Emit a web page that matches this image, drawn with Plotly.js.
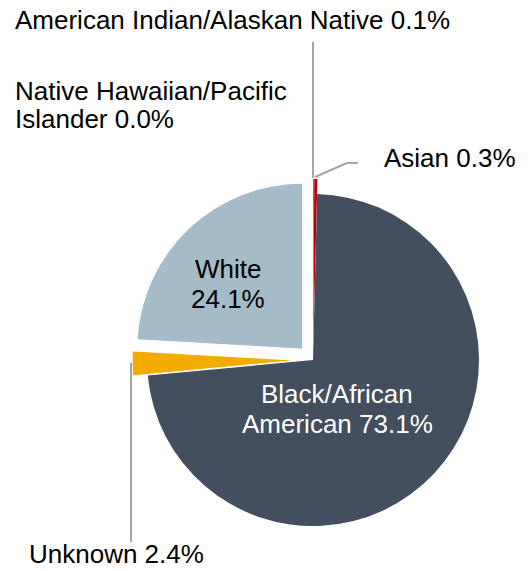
<!DOCTYPE html>
<html>
<head>
<meta charset="utf-8">
<script src="https://cdn.plot.ly/plotly-3.0.1.min.js"></script>
<style>html,body{margin:0;padding:0;background:#fff;}#chart{width:532px;height:571px;}</style>
</head>
<body>
<div id="chart"></div>
<script>
// Data (clockwise from 12 o'clock)
var labels = ["Native Hawaiian/Pacific Islander", "American Indian/Alaskan Native", "Asian", "Black/African American", "Unknown", "White"];
var values = [0.0, 0.1, 0.3, 73.1, 2.4, 24.1];
var colors = ["#7F7F7F", "#00A651", "#C00000", "#434F5E", "#F2AC00", "#A6BBC8"];
var pulls = [0.09, 0.09, 0.09, 0, 0.09, 0.09];
var borderWidths = [0, 0, 0, 0, 1, 1];

var W = 532, H = 571;
function px(x) { return x / W; }
function py(y) { return 1 - y / H; }
function pct(i) { return values[i].toFixed(1) + "%"; }

var FONT = "Liberation Sans, Arial, sans-serif";
var GRAY = "#A6A6A6";

// pie geometry
var cx = 313, cy = 360, r = 166, maxPull = 0.09;
var half = r * (1 + maxPull);

var trace = {
  type: "pie",
  labels: labels,
  values: values,
  sort: false,
  direction: "clockwise",
  rotation: 0,
  pull: pulls,
  marker: { colors: colors, line: { color: "#FFFFFF", width: borderWidths } },
  textinfo: "none",
  hoverinfo: "label+percent",
  domain: { x: [px(cx - half), px(cx + half)], y: [py(cy + half), py(cy - half)] }
};

function ann(text, x, y, xanchor, color) {
  return {
    text: text, xref: "paper", yref: "paper", x: px(x), y: py(y),
    xanchor: xanchor, yanchor: "middle", showarrow: false,
    borderpad: 0, borderwidth: 0,
    font: { family: FONT, size: 26, color: color || "#000000" }
  };
}

var annotations = [
  ann(labels[1] + " " + pct(1), 15, 20, "left"),
  ann("Native Hawaiian/Pacific", 15, 91, "left"),
  ann("Islander " + pct(0), 15, 118.5, "left"),
  ann(labels[2] + " " + pct(2), 384, 158, "left"),
  ann(labels[4] + " " + pct(4), 29, 554, "left"),
  ann(labels[5], 228, 269, "center"),
  ann(pct(5), 228, 299, "center"),
  ann("Black/African", 337, 394, "center", "#FFFFFF"),
  ann("American " + pct(3), 337, 424, "center", "#FFFFFF")
];

function line(x0, y0, x1, y1) {
  return { type: "line", xref: "paper", yref: "paper", x0: px(x0), y0: py(y0), x1: px(x1), y1: py(y1),
           line: { color: GRAY, width: 2 } };
}

var shapes = [
  line(313, 42, 313, 178),
  line(315, 177, 347, 163),
  line(347, 163, 358, 163),
  line(131, 363, 131, 542)
];

var layout = {
  width: W, height: H,
  margin: { l: 0, r: 0, t: 0, b: 0 },
  paper_bgcolor: "#FFFFFF",
  showlegend: false,
  font: { family: FONT },
  annotations: annotations,
  shapes: shapes
};

Plotly.newPlot("chart", [trace], layout, { displayModeBar: false, staticPlot: true });
</script>
</body>
</html>
